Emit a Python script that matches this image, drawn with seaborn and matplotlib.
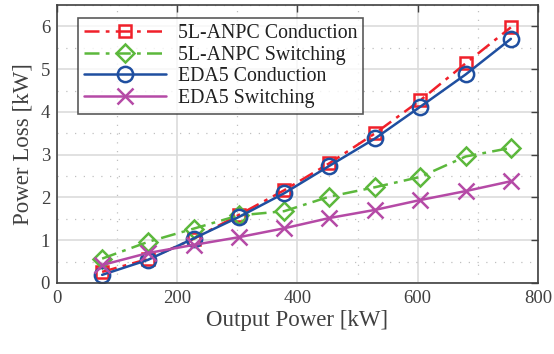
import matplotlib
matplotlib.use("Agg")
import matplotlib.pyplot as plt
import seaborn as sns
import pandas as pd
from matplotlib.ticker import MultipleLocator

# Output power operating points [kW]
output_power = [75, 151, 227, 302, 378, 453, 529, 604, 680, 755]

# Loss components [kW]
anpc_conduction = [0.26, 0.56, 1.03, 1.59, 2.17, 2.80, 3.50, 4.27, 5.14, 5.98]
anpc_switching = [0.57, 0.96, 1.27, 1.58, 1.68, 2.02, 2.24, 2.48, 2.96, 3.16]
eda5_conduction = [0.19, 0.54, 1.04, 1.54, 2.10, 2.74, 3.38, 4.12, 4.88, 5.71]
eda5_switching = [0.42, 0.70, 0.89, 1.07, 1.28, 1.52, 1.71, 1.94, 2.15, 2.38]

series_names = ["5L-ANPC Conduction", "5L-ANPC Switching",
                "EDA5 Conduction", "EDA5 Switching"]
series_values = [anpc_conduction, anpc_switching, eda5_conduction, eda5_switching]

rows = []
for name, vals in zip(series_names, series_values):
    for p, v in zip(output_power, vals):
        rows.append({"Output Power": p, "Loss": v, "Series": name})
df = pd.DataFrame(rows)

sns.set_theme(style="white")
plt.rcParams["font.family"] = ["Liberation Serif", "DejaVu Serif"]

text_color = "#404040"
styles = {
    "5L-ANPC Conduction": dict(color="#f0202a", marker="s", ls=(0, (6, 2.5, 1.5, 2.5)), ms=9),
    "5L-ANPC Switching": dict(color="#5cb83c", marker="D", ls=(0, (6, 2.5, 1.5, 2.5)), ms=9),
    "EDA5 Conduction": dict(color="#1f4fa0", marker="o", ls="-", ms=11),
    "EDA5 Switching": dict(color="#b54aa6", marker="x", ls="-", ms=11),
}

fig = plt.figure(figsize=(5.54, 3.54), dpi=100)
ax = fig.add_axes([0.103, 0.2006, 0.868, 0.785])

for name in series_names:
    st = styles[name]
    sub = df[df["Series"] == name]
    sns.lineplot(data=sub, x="Output Power", y="Loss", ax=ax, color=st["color"],
                 linestyle=st["ls"], linewidth=1.8, marker=st["marker"],
                 markersize=st["ms"], markerfacecolor="none",
                 markeredgecolor=st["color"], markeredgewidth=1.8,
                 label=name)

ax.set_xlim(0, 800)
ax.set_ylim(0, 6.5)
ax.xaxis.set_major_locator(MultipleLocator(200))
ax.xaxis.set_minor_locator(MultipleLocator(100))
ax.yaxis.set_major_locator(MultipleLocator(1))
ax.yaxis.set_minor_locator(MultipleLocator(0.5))
ax.grid(which="major", color="#dcdcdc", linewidth=1.2, linestyle="-")
ax.grid(which="minor", color="#c0c0c0", linewidth=0.9, linestyle=(0, (1, 6)))
ax.set_axisbelow(True)

for s in ax.spines.values():
    s.set_color("#404040")
    s.set_linewidth(1.2)
ax.tick_params(which="major", direction="in", length=5, width=1.0, color="#404040",
               top=True, right=True, labelsize=13.5, labelcolor=text_color, pad=5)
ax.tick_params(which="minor", length=0)

ax.set_xlabel("Output Power [kW]", fontsize=16.5, color=text_color, labelpad=2)
ax.set_ylabel("Power Loss [kW]", fontsize=16.5, color=text_color, labelpad=5)

leg = ax.legend(loc="upper left", bbox_to_anchor=(0.044, 0.952), fontsize=14.3,
                frameon=True, fancybox=False, edgecolor="#303030",
                handlelength=4.1, borderpad=0.3, labelspacing=0.12,
                handletextpad=0.6, borderaxespad=0)
leg.get_frame().set_linewidth(1.2)
for t in leg.get_texts():
    t.set_color("#202020")

fig.savefig("out.png", dpi=100)
